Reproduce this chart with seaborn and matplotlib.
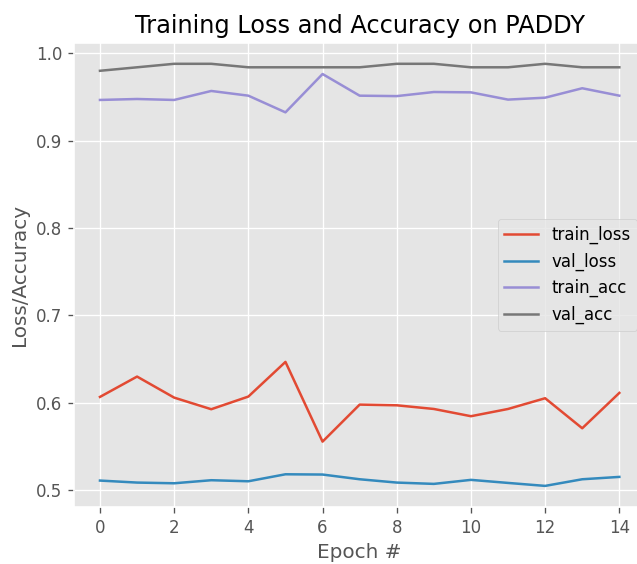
import numpy as np
import pandas as pd
import matplotlib
matplotlib.use("Agg")
import matplotlib.pyplot as plt
import seaborn as sns

epochs = list(range(15))
train_loss = [0.6065, 0.6298, 0.6057, 0.5924, 0.6069, 0.6466, 0.5553, 0.5977,
              0.5969, 0.5927, 0.5844, 0.5927, 0.6050, 0.5706, 0.6111]
val_loss = [0.5107, 0.5084, 0.5076, 0.5111, 0.5099, 0.5179, 0.5176, 0.5122,
            0.5084, 0.5069, 0.5115, 0.5080, 0.5046, 0.5122, 0.5149]
train_acc = [0.9466, 0.9477, 0.9466, 0.9569, 0.9515, 0.9324, 0.9763, 0.9515,
             0.9510, 0.9557, 0.9553, 0.9470, 0.9492, 0.9600, 0.9515]
val_acc = [0.980, 0.984, 0.988, 0.988, 0.984, 0.984, 0.984, 0.984,
           0.988, 0.988, 0.984, 0.984, 0.988, 0.984, 0.984]

series_names = ["train_loss", "val_loss", "train_acc", "val_acc"]
colors = ["#E24A33", "#348ABD", "#988ED5", "#777777"]

plt.style.use("ggplot")
fig = plt.figure(figsize=(637 / 120, 564 / 120), dpi=120)
ax = fig.add_axes([74 / 637, (564 - 507) / 564, (645.3 - 74) / 637, (507 - 42.7) / 564])

for name, vals, c in zip(series_names, [train_loss, val_loss, train_acc, val_acc], colors):
    sns.lineplot(x=epochs, y=vals, label=name, color=c, ax=ax, linewidth=1.5)

ax.set_title("Training Loss and Accuracy on PADDY")
ax.set_xlabel("Epoch #")
ax.set_ylabel("Loss/Accuracy")
ax.legend(loc="center right")

fig.savefig("out.png", dpi=120)
